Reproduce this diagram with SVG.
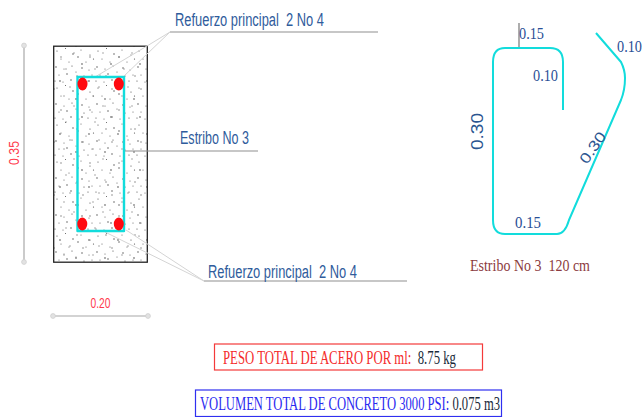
<svg xmlns="http://www.w3.org/2000/svg" width="644" height="417" viewBox="0 0 644 417">
<style>
text{white-space:pre}
.sans{font-family:"Liberation Sans",Arial,sans-serif}
.serif{font-family:"Liberation Serif","Times New Roman",serif}
.lbl{font-size:18px;fill:#2f5c9c}
.dim{font-size:15px;fill:#ff3a4c}
.stirval{font-size:17px;fill:#2a4f96}
.steel{fill:none;stroke:#12dcdc;stroke-width:2.4;stroke-linejoin:round}
.thin{fill:none;stroke:#d4d4d4;stroke-width:1}
.lead{fill:none;stroke:#8f8f8f;stroke-width:1.2}
.dimline{fill:none;stroke:#a8a8a8;stroke-width:1.2}
.tick{fill:#e2e2e2;stroke:#cfcfcf;stroke-width:.8}
.bar{fill:#ff0a10}
.box{font-size:18px}
</style>
<defs>
<pattern id="concrete" width="41" height="37" patternUnits="userSpaceOnUse" x="54" y="47">
<g fill="#444">
<circle cx="3" cy="4" r=".6"/><circle cx="11.500" cy="1.500" r=".5"/><circle cx="19" cy="7" r=".7"/><circle cx="27" cy="3" r=".5"/><circle cx="36" cy="8" r=".6"/>
<circle cx="7" cy="12" r=".5"/><circle cx="15" cy="15" r=".5"/><circle cx="24" cy="10" r=".7"/><circle cx="32" cy="15" r=".5"/><circle cx="39.500" cy="12" r=".6"/>
<circle cx="2" cy="20" r=".7"/><circle cx="10" cy="22" r=".5"/><circle cx="18" cy="19" r=".6"/><circle cx="28" cy="21" r=".7"/><circle cx="35" cy="23" r=".5"/>
<circle cx="5" cy="28" r=".5"/><circle cx="13" cy="27" r=".7"/><circle cx="22" cy="25" r=".5"/><circle cx="30" cy="29" r=".6"/><circle cx="38" cy="28" r=".5"/>
<circle cx="1" cy="34" r=".6"/><circle cx="9" cy="35" r=".5"/><circle cx="17" cy="33" r=".7"/><circle cx="25" cy="35" r=".5"/><circle cx="34" cy="34" r=".6"/>
</g>
</pattern>
<pattern id="concrete2" width="29" height="53" patternUnits="userSpaceOnUse" x="57" y="50">
<g fill="#8a8a8a">
<circle cx="4" cy="7" r=".8"/><circle cx="17" cy="3" r=".7"/><circle cx="25" cy="14" r=".9"/><circle cx="9" cy="19" r=".7"/><circle cx="20" cy="26" r=".8"/>
<circle cx="3" cy="31" r=".9"/><circle cx="13" cy="37" r=".7"/><circle cx="26" cy="39" r=".8"/><circle cx="7" cy="46" r=".7"/><circle cx="19" cy="49" r=".9"/>
</g>
</pattern>
</defs>

<g id="column">
<rect x="53.700" y="46.200" width="93.600" height="216" fill="#fff"/>
<rect x="53.700" y="46.200" width="93.600" height="216" fill="url(#concrete)"/>
<rect x="53.700" y="46.200" width="93.600" height="216" fill="url(#concrete2)"/>
<rect x="53.700" y="46.200" width="93.600" height="216" fill="none" stroke="#222" stroke-width="1.300"/>
</g>

<g id="connectors">
<path class="thin" d="M170 32L147 46L95 77M170 32L123 77"/>
<path class="lead" d="M170 32H378"/>
<path class="lead" d="M124 151H258"/>
<path class="thin" d="M204 281L105 232M204 281L126 230"/>
<path class="lead" d="M204 281H407"/>
<path class="dimline" d="M24 46V262"/>
<path class="dimline" d="M53 316H148"/>
<circle class="tick" cx="24" cy="45.500" r="2.400"/>
<circle class="tick" cx="24" cy="262" r="2.400"/>
<circle class="tick" cx="53" cy="316" r="2.400"/>
<circle class="tick" cx="148" cy="316" r="2.400"/>
<path d="M519 23V48" fill="none" stroke="#777" stroke-width="1.200"/>
</g>

<g id="stirrup-section">
<rect class="steel" x="77.500" y="77" width="46.500" height="154"/>
</g>
<g id="bars">
<ellipse class="bar" cx="82.500" cy="84" rx="5" ry="6.500"/>
<ellipse class="bar" cx="118.800" cy="84" rx="5" ry="6.500"/>
<ellipse class="bar" cx="82.300" cy="224" rx="5" ry="6.500"/>
<ellipse class="bar" cx="118.800" cy="224" rx="5" ry="6.500"/>
</g>

<g id="stirrup-detail">
<path class="steel" style="stroke-width:2" d="M563 110V62Q563 48 550 48H505Q493 48 493 62V220Q493 234 505 234H557Q565 234 569 220L621 100Q625 90 625 78Q625 70 621 62L596 33"/>
</g>

<g id="label-top"><text class="sans lbl" x="175" y="26" textLength="149" lengthAdjust="spacingAndGlyphs">Refuerzo principal  2 No 4</text></g>
<g id="label-stirrup"><text class="sans lbl" x="180" y="144" textLength="69" lengthAdjust="spacingAndGlyphs">Estribo No 3</text></g>
<g id="label-bottom"><text class="sans lbl" x="208" y="278" textLength="149" lengthAdjust="spacingAndGlyphs">Refuerzo principal  2 No 4</text></g>
<g id="dim-height"><text class="sans dim" transform="translate(19 165) rotate(-90)" textLength="24" lengthAdjust="spacingAndGlyphs">0.35</text></g>
<g id="dim-width"><text class="sans dim" x="90.500" y="308" textLength="20" lengthAdjust="spacingAndGlyphs">0.20</text></g>

<g id="stirrup-values">
<text class="serif stirval" x="519" y="39" textLength="25" lengthAdjust="spacingAndGlyphs">0.15</text>
<text class="serif stirval" x="533" y="81" textLength="25" lengthAdjust="spacingAndGlyphs">0.10</text>
<text class="serif stirval" transform="translate(617 52) scale(.85 1)" textLength="29.400" lengthAdjust="spacingAndGlyphs">0.10</text>
<text class="serif stirval" x="515" y="228" textLength="26" lengthAdjust="spacingAndGlyphs">0.15</text>
<text class="sans" style="font-size:16px;fill:#2a5590" transform="translate(483 150) rotate(-90)" textLength="37" lengthAdjust="spacingAndGlyphs">0.30</text>
<text class="sans" style="font-size:15px;fill:#2a5590" transform="translate(587 165) rotate(-55)" textLength="35" lengthAdjust="spacingAndGlyphs">0.30</text>
</g>
<g id="stirrup-caption"><text class="serif" style="font-size:17px;fill:#8c3b40" x="470" y="271" textLength="120" lengthAdjust="spacingAndGlyphs">Estribo No 3  120 cm</text></g>

<g id="weight-box">
<rect x="214.500" y="344" width="268" height="26" fill="#fff" stroke="#f43a3a" stroke-width="1.200"/>
<text class="serif box" transform="translate(223 364) scale(.8 1)" textLength="291.250" lengthAdjust="spacingAndGlyphs" fill="#f42c2c">PESO TOTAL DE ACERO POR ml:  <tspan fill="#1a2a3a">8.75 kg</tspan></text>
</g>
<g id="concrete-box">
<rect x="195.500" y="390" width="306" height="26.500" fill="#fff" stroke="#2f2ff0" stroke-width="1.200"/>
<text class="serif box" transform="translate(200 410) scale(.8 1)" textLength="375" lengthAdjust="spacingAndGlyphs" fill="#2a2af0">VOLUMEN TOTAL DE CONCRETO 3000 PSI: <tspan fill="#1a2a3a">0.075 m3</tspan></text>
</g>
</svg>
